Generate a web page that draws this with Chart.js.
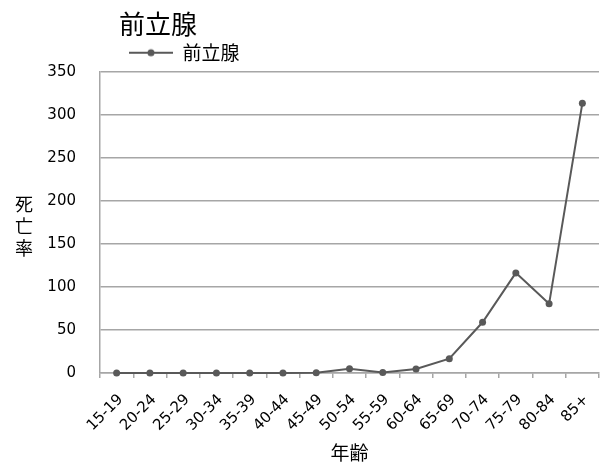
<!DOCTYPE html>
<html>
<head>
<meta charset="utf-8">
<script src="https://cdn.jsdelivr.net/npm/chart.js@4/dist/chart.umd.min.js"></script>
<style>
  html, body { margin: 0; padding: 0; background: #ffffff; }
  #wrap { width: 603px; height: 468px; }
</style>
</head>
<body>
<div id="wrap"><canvas id="c" width="603" height="468"></canvas></div>
<script>
const chartTitle = '前立腺';
const seriesName = '前立腺';
const xTitle = '年齢';
const yTitleChars = ['死', '亡', '率'];
const categories = ['15-19','20-24','25-29','30-34','35-39','40-44','45-49','50-54','55-59','60-64','65-69','70-74','75-79','80-84','85+'];
const deathRate = [0, 0, 0, 0, 0, 0, 0.4, 5, 0.5, 4.7, 16.6, 59, 116.5, 80.5, 314];
const yTicks = [0, 50, 100, 150, 200, 250, 300, 350];

const LINE = '#595959';
const GRID = '#a6a6a6';
const CJK = "'Noto Sans CJK JP', 'DejaVu Sans', sans-serif";
const NUM = "'DejaVu Sans', 'Noto Sans CJK JP', sans-serif";

// legend symbol: line with a dot in the middle
const legendSym = document.createElement('canvas');
legendSym.width = 44; legendSym.height = 10;
(function () {
  const g = legendSym.getContext('2d');
  g.strokeStyle = LINE; g.lineWidth = 2;
  g.beginPath(); g.moveTo(0, 5); g.lineTo(44, 5); g.stroke();
  g.fillStyle = LINE;
  g.beginPath(); g.arc(22, 5, 3.5, 0, Math.PI * 2); g.fill();
})();

const placeBoxes = {
  id: 'placeBoxes',
  afterLayout(chart) {
    if (chart.titleBlock) {
      const t = chart.titleBlock;
      t.left = 119; t.right = 603;
    }
    if (chart.legend) {
      const l = chart.legend;
      const w = l.right - l.left;
      l.left = 127; l.right = 127 + w;
    }
  }
};

const yTitlePlugin = {
  id: 'yTitle',
  afterDraw(chart) {
    const ctx = chart.ctx;
    ctx.save();
    ctx.fillStyle = '#000';
    ctx.font = "18px " + CJK;
    ctx.textAlign = 'center';
    ctx.textBaseline = 'middle';
    yTitleChars.forEach((ch, i) => ctx.fillText(ch, 24, 204 + i * 22));
    ctx.restore();
  }
};

new Chart(document.getElementById('c'), {
  type: 'line',
  data: {
    labels: categories,
    datasets: [{
      label: seriesName,
      data: deathRate,
      borderColor: LINE,
      backgroundColor: LINE,
      borderWidth: 2,
      pointRadius: 3.5,
      pointBackgroundColor: LINE,
      pointBorderColor: LINE,
      pointBorderWidth: 0,
      tension: 0,
      clip: false
    }]
  },
  options: {
    responsive: false,
    devicePixelRatio: 1,
    animation: false,
    layout: { padding: { left: 0, right: 3, top: 0, bottom: 0 } },
    plugins: {
      title: {
        display: true,
        text: chartTitle,
        align: 'start',
        color: '#000',
        font: { family: CJK, size: 26, weight: 'normal', lineHeight: 1.2 },
        padding: { top: 9, bottom: 1 }
      },
      legend: {
        display: true,
        align: 'start',
        labels: {
          usePointStyle: true,
          pointStyle: legendSym,
          pointStyleWidth: 44,
          boxHeight: 10,
          padding: 2,
          color: '#000',
          font: { family: CJK, size: 19 }
        }
      },
      tooltip: { enabled: false }
    },
    scales: {
      x: {
        type: 'category',
        offset: true,
        grid: {
          display: true,
          offset: true,
          drawOnChartArea: false,
          drawTicks: true,
          tickLength: 5,
          color: GRID,
          lineWidth: 1.5
        },
        border: { display: true, color: GRID, width: 1.5 },
        ticks: {
          color: '#000',
          font: { family: NUM, size: 15 },
          maxRotation: 45,
          minRotation: 45,
          autoSkip: false,
          padding: 13,
          labelOffset: 4
        },
        title: {
          display: true,
          text: xTitle,
          color: '#000',
          font: { family: CJK, size: 19 },
          padding: { top: 4, bottom: 4 }
        },
        afterFit(scale) {
          scale.height = 95;
          scale.paddingLeft = 0;
          scale.paddingRight = 0;
        }
      },
      y: {
        min: 0,
        max: 350,
        afterBuildTicks(scale) { scale.ticks = yTicks.map(v => ({ value: v })); },
        grid: {
          display: true,
          drawTicks: false,
          color: GRID,
          lineWidth: 1.5
        },
        border: { display: true, color: GRID, width: 1.5 },
        ticks: {
          color: '#000',
          font: { family: NUM, size: 15 },
          padding: 24
        },
        title: { display: false },
        afterFit(scale) { scale.width = 100; }
      }
    }
  },
  plugins: [placeBoxes, yTitlePlugin]
});
</script>
</body>
</html>
